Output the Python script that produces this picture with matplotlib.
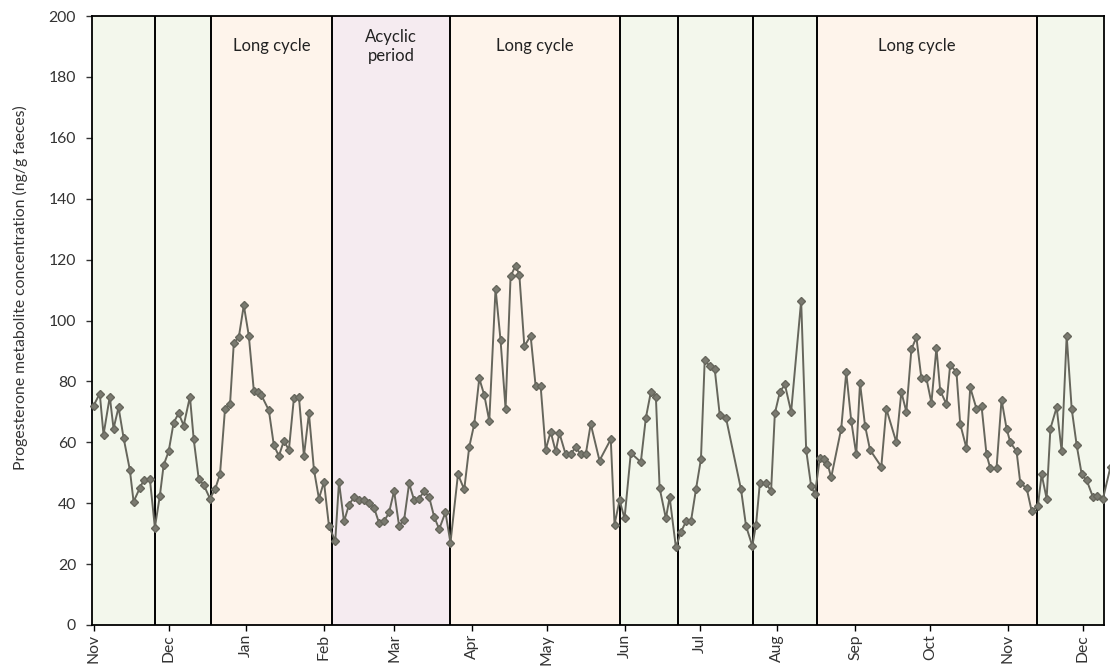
import matplotlib
matplotlib.use("Agg")
import matplotlib.pyplot as plt

plt.rcParams['font.family'] = ['Lato', 'DejaVu Sans']

# Days since 1 November (first year)
days = [0, 2.5, 4, 6.5, 8, 10, 12, 14.5, 16, 18.5,
        20, 22.5, 24.5, 26.5, 28, 30, 32, 34, 36, 38.5,
        40, 42, 44, 46.5, 48.5, 50.5, 52.5, 54.5, 56, 58,
        60, 62, 64, 65.5, 67, 70, 72, 74, 76, 78,
        80, 82, 84, 86, 88, 90, 92, 94, 96.5, 98,
        100, 102, 104, 106, 108, 110, 112, 114, 116, 118,
        120, 122, 124, 126, 128, 130, 132, 134, 136, 138,
        140.5, 142.5, 145.5, 148, 150, 152, 154, 156, 158, 160.5,
        162.5, 164.5, 166.5, 168.5, 170, 172, 174.5, 176.5, 178.5, 180.5,
        182.5, 184.5, 186, 188.5, 190.5, 192.5, 194.5, 196.5, 198.5, 202,
        206.5, 208, 210, 212, 214.5, 218.5, 220.5, 222.5, 224.5, 226,
        228.5, 230, 232.5, 234.5, 236.5, 238.5, 240.5, 242.5, 244, 246,
        248, 250, 252.5, 258.5, 260.5, 263, 264.5, 266, 268.5, 270.5,
        272, 274, 276, 278.5, 282.5, 284.5, 286.5, 288, 290, 291.5,
        293, 294.5, 298.5, 300.5, 302.5, 304.5, 306, 308, 310, 314.5,
        316.5, 320.5, 322.5, 324.5, 326.5, 328.5, 330.5, 332.5, 334.5, 336.5,
        338, 340.5, 342, 344.5, 346, 348.5, 350, 352.5, 354.5, 356.5,
        358, 360.5, 362.5, 364.5, 366, 368.5, 370, 372.5, 374.5, 377,
        378.5, 380.5, 382, 384.5, 386.5, 388.5, 390.5, 392.5, 394.5, 396.5,
        399, 400.5, 403, 406]

values = [72, 76, 62.5, 75, 64.5, 71.5, 61.5, 51, 40.5, 45,
          47.5, 48, 32, 42.5, 52.5, 57, 66.5, 69.5, 65.5, 75,
          61, 48, 46, 41.5, 44.5, 49.5, 71, 72.5, 92.5, 94.5,
          105, 95, 77, 76.5, 75.5, 70.5, 59, 55.5, 60.5, 57.5,
          74.5, 75, 55.5, 69.5, 51, 41.5, 47, 32.5, 27.5, 47,
          34, 39.5, 42, 41, 41, 40, 38.5, 33.5, 34, 37,
          44, 32.5, 34.5, 46.5, 41, 41.5, 44, 42, 35.5, 31.5,
          37, 27, 49.5, 44.5, 58.5, 66, 81, 75.5, 67, 110.5,
          93.5, 71, 114.5, 118, 115, 91.5, 95, 78.5, 78.5, 57.5,
          63.5, 57, 63, 56, 56, 58.5, 56, 56, 66, 54,
          61, 33, 41, 35, 56.5, 53.5, 68, 76.5, 75, 45,
          35, 42, 25.5, 30.5, 34, 34, 44.5, 54.5, 87, 85,
          84, 69, 68, 44.5, 32.5, 26, 33, 46.5, 46.5, 44,
          69.5, 76.5, 79, 70, 106.5, 57.5, 45.5, 43, 55, 54.5,
          53, 48.5, 64.5, 83, 67, 56, 79.5, 65.5, 57.5, 52,
          71, 60, 76.5, 70, 90.5, 94.5, 81, 81, 73, 91,
          77, 72.5, 85.5, 83, 66, 58, 78, 71, 72, 56,
          51.5, 51.5, 74, 64.5, 60, 57, 46.5, 45, 37.5, 39,
          49.5, 41.5, 64.5, 71.5, 57, 95, 71, 59, 49.5, 47.5,
          42, 42.5, 41.5, 52]

month_labels = ['Nov', 'Dec', 'Jan', 'Feb', 'Mar', 'Apr', 'May', 'Jun',
                'Jul', 'Aug', 'Sep', 'Oct', 'Nov', 'Dec']
month_days = [0, 30, 61, 92, 120, 151, 181, 212, 242, 273, 304, 334, 365, 395]

# cycle boundaries (days) and phase type of each interval
boundaries = [-0.6, 24.5, 46.9, 95.4, 142.4, 210.3, 233.4, 263.3, 288.7, 376.5, 403.4]
phases = ['cycle', 'cycle', 'long', 'acyclic', 'long', 'cycle', 'cycle', 'cycle', 'long', 'cycle']
phase_colors = {'cycle': '#f3f7ec', 'long': '#fef4eb', 'acyclic': '#f5ebf0'}

labels_text = ['Long cycle', 'Acyclic\nperiod', 'Long cycle', 'Long cycle']
labels_day = [71.3, 118.8, 176.3, 328.8]

fig = plt.figure(figsize=(11.1, 6.7), dpi=100)
ax = fig.add_axes([92/1110, 1 - 625/670, (1104 - 92)/1110, (625 - 16)/670])

for i, ph in enumerate(phases):
    ax.axvspan(boundaries[i], boundaries[i + 1], color=phase_colors[ph], lw=0, zorder=0)
for b in boundaries[1:-1]:
    ax.axvline(b, color='black', lw=1.4, zorder=2)

ax.plot(days, values, color='#66665c', lw=1.4, marker='D', markersize=4.3,
        markerfacecolor='#7a7a70', markeredgecolor='#66665c', zorder=3, clip_on=False)

for t, d in zip(labels_text, labels_day):
    ax.text(d, 190, t, ha='center', va='center', fontsize=12, color='#222222',
            linespacing=1.2)

ax.set_xlim(boundaries[0], boundaries[-1])
ax.set_ylim(0, 200)
ax.set_yticks(range(0, 201, 20))
ax.set_xticks(month_days)
ax.set_xticklabels(month_labels, rotation=90, fontsize=11.3, color='#333333')
ax.tick_params(axis='y', labelsize=11.3, colors='#333333', length=4, width=1, pad=7.5)
ax.tick_params(axis='x', length=4, width=1, pad=2.5)
for sp in ax.spines.values():
    sp.set_color('black')
    sp.set_linewidth(1.3)

ax.set_ylabel('Progesterone metabolite concentration (ng/g faeces)', fontsize=11.3, color='#333333')
ax.yaxis.set_label_coords(-0.063, 0.554)

fig.savefig('out.png', dpi=100)
